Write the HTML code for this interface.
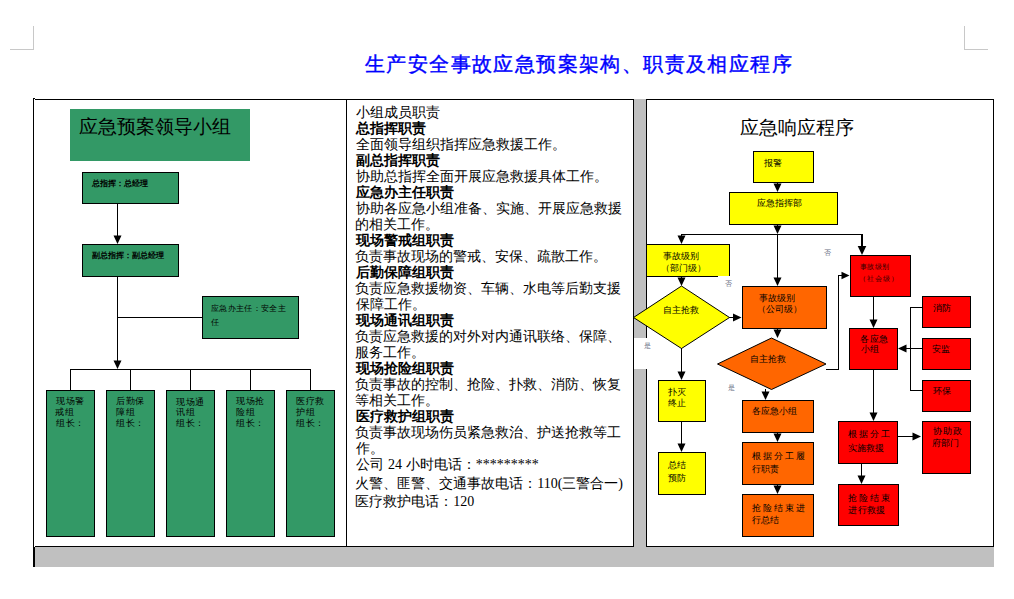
<!DOCTYPE html>
<html><head><meta charset="utf-8"><style>
html,body{margin:0;padding:0;background:#fff;}
body{width:1014px;height:599px;overflow:hidden;position:relative;}
svg{position:absolute;left:0;top:0;}
.t{position:absolute;white-space:nowrap;}
.r{font-family:'Liberation Serif',serif;}
</style></head><body>
<svg width="1014" height="599" viewBox="0 0 1014 599" shape-rendering="crispEdges">
<rect x="10" y="49" width="24" height="1" fill="#c8c8c8"/>
<rect x="33" y="26" width="1" height="24" fill="#c8c8c8"/>
<rect x="964" y="49" width="24" height="1" fill="#c8c8c8"/>
<rect x="964" y="26" width="1" height="24" fill="#c8c8c8"/>
<rect x="34" y="547" width="960" height="20" fill="#c0c0c0"/>
<rect x="634" y="99" width="12" height="448" fill="#c0c0c0"/>
<rect x="634" y="338" width="12" height="31" fill="#fff"/>
<rect x="33" y="99" width="1" height="468" fill="#000"/>
<rect x="33" y="98" width="2" height="1" fill="#000"/>
<rect x="35" y="99" width="599" height="1" fill="#000"/>
<rect x="646" y="99" width="348" height="1" fill="#000"/>
<rect x="35" y="546" width="599" height="1" fill="#000"/>
<rect x="646" y="546" width="348" height="1" fill="#000"/>
<rect x="34" y="547" width="1" height="20" fill="#000"/>
<rect x="346" y="99" width="1" height="448" fill="#000"/>
<rect x="633" y="99" width="1" height="448" fill="#000"/>
<rect x="646" y="99" width="1" height="239" fill="#000"/>
<rect x="646" y="369" width="1" height="178" fill="#000"/>
<rect x="993" y="99" width="1" height="448" fill="#000"/>
<rect x="70" y="109" width="180" height="52" fill="#339966"/>
<rect x="82.5" y="172.5" width="96" height="31" fill="#339966" stroke="#000" stroke-width="1"/>
<rect x="117" y="203" width="1" height="34" fill="#000"/>
<polygon shape-rendering="geometricPrecision" points="113.50,235.50 121.50,235.50 117.50,244.00" fill="#000"/>
<rect x="82.5" y="244.5" width="96" height="32" fill="#339966" stroke="#000" stroke-width="1"/>
<rect x="117" y="276" width="1" height="86" fill="#000"/>
<polygon shape-rendering="geometricPrecision" points="113.50,360.50 121.50,360.50 117.50,369.00" fill="#000"/>
<rect x="117" y="317" width="86" height="1" fill="#000"/>
<rect x="202.5" y="296.5" width="96" height="42" fill="#339966" stroke="#000" stroke-width="1"/>
<rect x="70" y="369" width="241" height="1" fill="#000"/>
<rect x="70" y="369" width="1" height="22" fill="#000"/>
<rect x="46.5" y="390.5" width="48" height="146" fill="#339966" stroke="#000" stroke-width="1"/>
<rect x="130" y="369" width="1" height="22" fill="#000"/>
<rect x="106.5" y="390.5" width="48" height="146" fill="#339966" stroke="#000" stroke-width="1"/>
<rect x="190" y="369" width="1" height="22" fill="#000"/>
<rect x="166.5" y="390.5" width="48" height="146" fill="#339966" stroke="#000" stroke-width="1"/>
<rect x="250" y="369" width="1" height="22" fill="#000"/>
<rect x="226.5" y="390.5" width="48" height="146" fill="#339966" stroke="#000" stroke-width="1"/>
<rect x="310" y="369" width="1" height="22" fill="#000"/>
<rect x="286.5" y="390.5" width="48" height="146" fill="#339966" stroke="#000" stroke-width="1"/>
<rect x="753.5" y="151.5" width="60" height="31" fill="#ffff00" stroke="#000" stroke-width="1"/>
<rect x="777" y="182" width="1" height="3" fill="#000"/>
<polygon shape-rendering="geometricPrecision" points="773.50,183.50 781.50,183.50 777.50,192.00" fill="#000"/>
<rect x="729.5" y="192.5" width="108" height="32" fill="#ffff00" stroke="#000" stroke-width="1"/>
<rect x="777" y="224" width="1" height="3" fill="#000"/>
<polygon shape-rendering="geometricPrecision" points="773.50,225.50 781.50,225.50 777.50,234.00" fill="#000"/>
<rect x="681" y="234" width="182" height="1" fill="#000"/>
<rect x="681" y="234" width="1" height="3" fill="#000"/>
<polygon shape-rendering="geometricPrecision" points="677.50,235.50 685.50,235.50 681.50,244.00" fill="#000"/>
<rect x="861" y="234" width="2" height="14" fill="#000"/>
<polygon shape-rendering="geometricPrecision" points="857.70,246.00 866.30,246.00 862.00,255.00" fill="#000"/>
<rect x="777" y="234" width="1" height="45" fill="#000"/>
<polygon shape-rendering="geometricPrecision" points="773.50,277.50 781.50,277.50 777.50,286.00" fill="#000"/>
<rect x="646.5" y="244.5" width="83" height="32" fill="#ffff00" stroke="#000" stroke-width="1"/>
<rect x="718" y="276" width="13" height="14" fill="#fff"/>
<rect x="681" y="276" width="1" height="3" fill="#000"/>
<polygon shape-rendering="geometricPrecision" points="677.50,277.50 685.50,277.50 681.50,286.00" fill="#000"/>
<polygon shape-rendering="geometricPrecision" points="681.5,286 729.5,317.5 681.5,348.5 633.5,317.5" fill="#ffff00" stroke="#000" stroke-width="1"/>
<rect x="729" y="317" width="6" height="1" fill="#000"/>
<polygon shape-rendering="geometricPrecision" points="733.00,313.50 733.00,321.50 741.50,317.50" fill="#000"/>
<rect x="742.5" y="286.5" width="84" height="42" fill="#ff6600" stroke="#000" stroke-width="1"/>
<rect x="777" y="328" width="1" height="3" fill="#000"/>
<polygon shape-rendering="geometricPrecision" points="773.50,329.50 781.50,329.50 777.50,338.00" fill="#000"/>
<polygon shape-rendering="geometricPrecision" points="771.5,338 826,364 771.5,389.5 717.5,364" fill="#ff6600" stroke="#000" stroke-width="1"/>
<rect x="826" y="369" width="1" height="1" fill="#000"/>
<rect x="826" y="369" width="13" height="1" fill="#000"/>
<rect x="838" y="275" width="1" height="95" fill="#000"/>
<rect x="838" y="275" width="5" height="1" fill="#000"/>
<polygon shape-rendering="geometricPrecision" points="841.50,271.80 841.50,279.20 849.50,275.50" fill="#000"/>
<rect x="850.5" y="255.5" width="60" height="41" fill="#ff0000" stroke="#000" stroke-width="1"/>
<rect x="873" y="296" width="1" height="25" fill="#000"/>
<polygon shape-rendering="geometricPrecision" points="869.50,319.50 877.50,319.50 873.50,328.00" fill="#000"/>
<rect x="849.5" y="328.5" width="48" height="41" fill="#ff0000" stroke="#000" stroke-width="1"/>
<rect x="922.5" y="296.5" width="48" height="31" fill="#ff0000" stroke="#000" stroke-width="1"/>
<rect x="922.5" y="338.5" width="48" height="31" fill="#ff0000" stroke="#000" stroke-width="1"/>
<rect x="922.5" y="380.5" width="48" height="31" fill="#ff0000" stroke="#000" stroke-width="1"/>
<rect x="910" y="307" width="12" height="1" fill="#000"/>
<rect x="910" y="307" width="1" height="84" fill="#000"/>
<rect x="910" y="390" width="12" height="1" fill="#000"/>
<rect x="905" y="348" width="17" height="1" fill="#000"/>
<polygon shape-rendering="geometricPrecision" points="906.50,344.50 906.50,352.50 898.00,348.50" fill="#000"/>
<rect x="873" y="369" width="1" height="45" fill="#000"/>
<polygon shape-rendering="geometricPrecision" points="869.50,412.50 877.50,412.50 873.50,421.00" fill="#000"/>
<rect x="838.5" y="421.5" width="59" height="42" fill="#ff0000" stroke="#000" stroke-width="1"/>
<rect x="897" y="436" width="17" height="1" fill="#000"/>
<polygon shape-rendering="geometricPrecision" points="912.50,432.50 912.50,440.50 921.00,436.50" fill="#000"/>
<rect x="922.5" y="421.5" width="48" height="52" fill="#ff0000" stroke="#000" stroke-width="1"/>
<rect x="861" y="463" width="1" height="14" fill="#000"/>
<polygon shape-rendering="geometricPrecision" points="857.50,475.50 865.50,475.50 861.50,484.00" fill="#000"/>
<rect x="838.5" y="484.5" width="60" height="41" fill="#ff0000" stroke="#000" stroke-width="1"/>
<rect x="681" y="348" width="1" height="25" fill="#000"/>
<polygon shape-rendering="geometricPrecision" points="677.50,371.50 685.50,371.50 681.50,380.00" fill="#000"/>
<rect x="658.5" y="380.5" width="47" height="41" fill="#ffff00" stroke="#000" stroke-width="1"/>
<rect x="681" y="421" width="1" height="24" fill="#000"/>
<polygon shape-rendering="geometricPrecision" points="677.50,443.50 685.50,443.50 681.50,452.00" fill="#000"/>
<rect x="658.5" y="452.5" width="47" height="42" fill="#ffff00" stroke="#000" stroke-width="1"/>
<rect x="765" y="389" width="1" height="4" fill="#000"/>
<polygon shape-rendering="geometricPrecision" points="761.50,391.50 769.50,391.50 765.50,400.00" fill="#000"/>
<rect x="742.5" y="400.5" width="71" height="32" fill="#ff6600" stroke="#000" stroke-width="1"/>
<rect x="777" y="432" width="1" height="3" fill="#000"/>
<polygon shape-rendering="geometricPrecision" points="773.50,433.50 781.50,433.50 777.50,442.00" fill="#000"/>
<rect x="742.5" y="442.5" width="71" height="42" fill="#ff6600" stroke="#000" stroke-width="1"/>
<rect x="777" y="484" width="1" height="3" fill="#000"/>
<polygon shape-rendering="geometricPrecision" points="773.50,485.50 781.50,485.50 777.50,494.00" fill="#000"/>
<rect x="742.5" y="494.5" width="71" height="42" fill="#ff6600" stroke="#000" stroke-width="1"/>
</svg>
<div class="t" id="t0" style="left:365.00px;top:54.96px;font-size:19.6px;line-height:19.6px;color:#0000ff;font-family:'Liberation Serif',sans-serif;font-weight:500;letter-spacing:1.4px;-webkit-text-stroke:0.4px #0000ff;">生产安全事故应急预案架构、职责及相应程序</div>
<div class="t" id="t1" style="left:79.20px;top:118.05px;font-size:18.5px;line-height:18.5px;color:#000;font-family:'Liberation Sans',sans-serif;">应急预案领导小组</div>
<div class="t" id="t2" style="left:92.24px;top:179.40px;font-size:8.3px;line-height:8.3px;color:#000;font-family:'Liberation Sans',sans-serif;font-weight:700;">总指挥：总经理</div>
<div class="t" id="t3" style="left:92.24px;top:251.55px;font-size:8.2px;line-height:8.2px;color:#000;font-family:'Liberation Sans',sans-serif;font-weight:700;">副总指挥：副总经理</div>
<div class="t" id="t4" style="left:211.20px;top:305.37px;font-size:8.2px;line-height:8.2px;color:#000;font-family:'Liberation Sans',sans-serif;font-weight:500;letter-spacing:0.3px;">应急办主任：安全主</div>
<div class="t" id="t5" style="left:211.20px;top:319.13px;font-size:8.2px;line-height:8.2px;color:#000;font-family:'Liberation Sans',sans-serif;font-weight:500;">任</div>
<div class="t" id="t6" style="left:56.00px;top:397.49px;font-size:9px;line-height:9px;color:#000;font-family:'Liberation Sans',sans-serif;font-weight:500;letter-spacing:0.7px;">现场警</div>
<div class="t" id="t7" style="left:55.20px;top:408.25px;font-size:9px;line-height:9px;color:#000;font-family:'Liberation Sans',sans-serif;font-weight:500;letter-spacing:0.7px;">戒组</div>
<div class="t" id="t8" style="left:56.00px;top:418.73px;font-size:9px;line-height:9px;color:#000;font-family:'Liberation Sans',sans-serif;font-weight:500;letter-spacing:0.7px;">组长：</div>
<div class="t" id="t9" style="left:116.00px;top:397.49px;font-size:9px;line-height:9px;color:#000;font-family:'Liberation Sans',sans-serif;font-weight:500;letter-spacing:0.7px;">后勤保</div>
<div class="t" id="t10" style="left:116.00px;top:408.25px;font-size:9px;line-height:9px;color:#000;font-family:'Liberation Sans',sans-serif;font-weight:500;letter-spacing:0.7px;">障组</div>
<div class="t" id="t11" style="left:116.00px;top:418.73px;font-size:9px;line-height:9px;color:#000;font-family:'Liberation Sans',sans-serif;font-weight:500;letter-spacing:0.7px;">组长：</div>
<div class="t" id="t12" style="left:176.00px;top:398.29px;font-size:9px;line-height:9px;color:#000;font-family:'Liberation Sans',sans-serif;font-weight:500;letter-spacing:0.7px;">现场通</div>
<div class="t" id="t13" style="left:176.00px;top:408.25px;font-size:9px;line-height:9px;color:#000;font-family:'Liberation Sans',sans-serif;font-weight:500;letter-spacing:0.7px;">讯组</div>
<div class="t" id="t14" style="left:176.00px;top:418.73px;font-size:9px;line-height:9px;color:#000;font-family:'Liberation Sans',sans-serif;font-weight:500;letter-spacing:0.7px;">组长：</div>
<div class="t" id="t15" style="left:236.00px;top:397.49px;font-size:9px;line-height:9px;color:#000;font-family:'Liberation Sans',sans-serif;font-weight:500;letter-spacing:0.7px;">现场抢</div>
<div class="t" id="t16" style="left:236.00px;top:408.25px;font-size:9px;line-height:9px;color:#000;font-family:'Liberation Sans',sans-serif;font-weight:500;letter-spacing:0.7px;">险组</div>
<div class="t" id="t17" style="left:236.00px;top:418.73px;font-size:9px;line-height:9px;color:#000;font-family:'Liberation Sans',sans-serif;font-weight:500;letter-spacing:0.7px;">组长：</div>
<div class="t" id="t18" style="left:296.00px;top:397.49px;font-size:9px;line-height:9px;color:#000;font-family:'Liberation Sans',sans-serif;font-weight:500;letter-spacing:0.7px;">医疗救</div>
<div class="t" id="t19" style="left:296.00px;top:408.25px;font-size:9px;line-height:9px;color:#000;font-family:'Liberation Sans',sans-serif;font-weight:500;letter-spacing:0.7px;">护组</div>
<div class="t" id="t20" style="left:296.00px;top:418.73px;font-size:9px;line-height:9px;color:#000;font-family:'Liberation Sans',sans-serif;font-weight:500;letter-spacing:0.7px;">组长：</div>
<div class="t" id="t21" style="left:356.00px;top:105.48px;font-size:14px;line-height:14px;color:#000;font-family:'Liberation Sans',sans-serif;">小组成员职责</div>
<div class="t" id="t22" style="left:356.00px;top:121.48px;font-size:14px;line-height:14px;color:#000;font-family:'Liberation Sans',sans-serif;font-weight:700;">总指挥职责</div>
<div class="t" id="t23" style="left:356.00px;top:136.68px;font-size:14px;line-height:14px;color:#000;font-family:'Liberation Sans',sans-serif;">全面领导组织指挥应急救援工作。</div>
<div class="t" id="t24" style="left:356.00px;top:153.48px;font-size:14px;line-height:14px;color:#000;font-family:'Liberation Sans',sans-serif;font-weight:700;">副总指挥职责</div>
<div class="t" id="t25" style="left:356.00px;top:168.68px;font-size:14px;line-height:14px;color:#000;font-family:'Liberation Sans',sans-serif;">协助总指挥全面开展应急救援具体工作。</div>
<div class="t" id="t26" style="left:356.00px;top:185.48px;font-size:14px;line-height:14px;color:#000;font-family:'Liberation Sans',sans-serif;font-weight:700;">应急办主任职责</div>
<div class="t" id="t27" style="left:356.00px;top:200.68px;font-size:14px;line-height:14px;color:#000;font-family:'Liberation Sans',sans-serif;">协助各应急小组准备、实施、开展应急救援</div>
<div class="t" id="t28" style="left:355.20px;top:217.48px;font-size:14px;line-height:14px;color:#000;font-family:'Liberation Sans',sans-serif;">的相关工作。</div>
<div class="t" id="t29" style="left:356.00px;top:233.48px;font-size:14px;line-height:14px;color:#000;font-family:'Liberation Sans',sans-serif;font-weight:700;">现场警戒组职责</div>
<div class="t" id="t30" style="left:355.20px;top:249.48px;font-size:14px;line-height:14px;color:#000;font-family:'Liberation Sans',sans-serif;">负责事故现场的警戒、安保、疏散工作。</div>
<div class="t" id="t31" style="left:356.00px;top:265.48px;font-size:14px;line-height:14px;color:#000;font-family:'Liberation Sans',sans-serif;font-weight:700;">后勤保障组职责</div>
<div class="t" id="t32" style="left:355.20px;top:281.48px;font-size:14px;line-height:14px;color:#000;font-family:'Liberation Sans',sans-serif;">负责应急救援物资、车辆、水电等后勤支援</div>
<div class="t" id="t33" style="left:356.00px;top:296.68px;font-size:14px;line-height:14px;color:#000;font-family:'Liberation Sans',sans-serif;">保障工作。</div>
<div class="t" id="t34" style="left:356.00px;top:313.48px;font-size:14px;line-height:14px;color:#000;font-family:'Liberation Sans',sans-serif;font-weight:700;">现场通讯组职责</div>
<div class="t" id="t35" style="left:355.20px;top:329.48px;font-size:14px;line-height:14px;color:#000;font-family:'Liberation Sans',sans-serif;">负责应急救援的对外对内通讯联络、保障、</div>
<div class="t" id="t36" style="left:355.20px;top:344.68px;font-size:14px;line-height:14px;color:#000;font-family:'Liberation Sans',sans-serif;">服务工作。</div>
<div class="t" id="t37" style="left:356.00px;top:361.48px;font-size:14px;line-height:14px;color:#000;font-family:'Liberation Sans',sans-serif;font-weight:700;">现场抢险组职责</div>
<div class="t" id="t38" style="left:355.20px;top:377.48px;font-size:14px;line-height:14px;color:#000;font-family:'Liberation Sans',sans-serif;">负责事故的控制、抢险、扑救、消防、恢复</div>
<div class="t" id="t39" style="left:355.20px;top:393.48px;font-size:14px;line-height:14px;color:#000;font-family:'Liberation Sans',sans-serif;">等相关工作。</div>
<div class="t" id="t40" style="left:356.00px;top:409.48px;font-size:14px;line-height:14px;color:#000;font-family:'Liberation Sans',sans-serif;font-weight:700;">医疗救护组职责</div>
<div class="t" id="t41" style="left:355.20px;top:425.48px;font-size:14px;line-height:14px;color:#000;font-family:'Liberation Sans',sans-serif;">负责事故现场伤员紧急救治、护送抢救等工</div>
<div class="t" id="t42" style="left:356.00px;top:440.68px;font-size:14px;line-height:14px;color:#000;font-family:'Liberation Sans',sans-serif;">作。</div>
<div class="t" id="t43" style="left:356.00px;top:456.68px;font-size:14px;line-height:14px;color:#000;font-family:'Liberation Sans',sans-serif;">公司 <span class="r">24</span> 小时电话：<span class="r">*********</span></div>
<div class="t" id="t44" style="left:355.20px;top:476.48px;font-size:14px;line-height:14px;color:#000;font-family:'Liberation Sans',sans-serif;">火警、匪警、交通事故电话：<span class="r">110(三警合一)</span></div>
<div class="t" id="t45" style="left:355.20px;top:493.68px;font-size:14px;line-height:14px;color:#000;font-family:'Liberation Sans',sans-serif;">医疗救护电话：<span class="r">120</span></div>
<div class="t" id="t46" style="left:740.20px;top:119.05px;font-size:18.5px;line-height:18.5px;color:#000;font-family:'Liberation Sans',sans-serif;">应急响应程序</div>
<div class="t" id="t47" style="left:764.24px;top:158.65px;font-size:8.5px;line-height:8.5px;color:#000;font-family:'Liberation Sans',sans-serif;font-weight:500;">报警</div>
<div class="t" id="t48" style="left:756.58px;top:199.36px;font-size:8.5px;line-height:8.5px;color:#000;font-family:'Liberation Sans',sans-serif;font-weight:500;">应急指挥部</div>
<div class="t" id="t49" style="left:663.30px;top:251.75px;font-size:8.5px;line-height:8.5px;color:#000;font-family:'Liberation Sans',sans-serif;font-weight:500;">事故级别</div>
<div class="t" id="t50" style="left:660.50px;top:263.75px;font-size:8.5px;line-height:8.5px;color:#000;font-family:'Liberation Sans',sans-serif;font-weight:500;">（部门级）</div>
<div class="t" id="t51" style="left:663.30px;top:306.36px;font-size:8.5px;line-height:8.5px;color:#000;font-family:'Liberation Sans',sans-serif;font-weight:500;">自主抢救</div>
<div class="t" id="t52" style="left:759.30px;top:293.64px;font-size:8.5px;line-height:8.5px;color:#000;font-family:'Liberation Sans',sans-serif;font-weight:500;">事故级别</div>
<div class="t" id="t53" style="left:756.50px;top:304.64px;font-size:8.5px;line-height:8.5px;color:#000;font-family:'Liberation Sans',sans-serif;font-weight:500;">（公司级）</div>
<div class="t" id="t54" style="left:750.44px;top:354.75px;font-size:8.5px;line-height:8.5px;color:#000;font-family:'Liberation Sans',sans-serif;font-weight:500;">自主抢救</div>
<div class="t" id="t55" style="left:859.82px;top:263.22px;font-size:7.2px;line-height:7.2px;color:#300000;font-family:'Liberation Sans',sans-serif;letter-spacing:0.4px;">事故级别</div>
<div class="t" id="t56" style="left:858.70px;top:275.22px;font-size:7.2px;line-height:7.2px;color:#300000;font-family:'Liberation Sans',sans-serif;letter-spacing:1.1px;">（社会级）</div>
<div class="t" id="t57" style="left:859.96px;top:334.64px;font-size:8.5px;line-height:8.5px;color:#000;font-family:'Liberation Sans',sans-serif;font-weight:500;letter-spacing:0.6px;">各应急</div>
<div class="t" id="t58" style="left:860.76px;top:345.13px;font-size:8.5px;line-height:8.5px;color:#000;font-family:'Liberation Sans',sans-serif;font-weight:500;letter-spacing:0.6px;">小组</div>
<div class="t" id="t59" style="left:933.00px;top:303.64px;font-size:8.5px;line-height:8.5px;color:#000;font-family:'Liberation Sans',sans-serif;font-weight:500;">消防</div>
<div class="t" id="t60" style="left:932.20px;top:345.13px;font-size:8.5px;line-height:8.5px;color:#000;font-family:'Liberation Sans',sans-serif;font-weight:500;">安监</div>
<div class="t" id="t61" style="left:933.00px;top:386.75px;font-size:8.5px;line-height:8.5px;color:#000;font-family:'Liberation Sans',sans-serif;font-weight:500;">环保</div>
<div class="t" id="t62" style="left:848.48px;top:430.03px;font-size:8.5px;line-height:8.5px;color:#000;font-family:'Liberation Sans',sans-serif;font-weight:500;letter-spacing:1.9px;">根据分工</div>
<div class="t" id="t63" style="left:847.68px;top:443.78px;font-size:8.5px;line-height:8.5px;color:#000;font-family:'Liberation Sans',sans-serif;font-weight:500;letter-spacing:0.1px;">实施救援</div>
<div class="t" id="t64" style="left:933.14px;top:427.36px;font-size:8.5px;line-height:8.5px;color:#000;font-family:'Liberation Sans',sans-serif;font-weight:500;letter-spacing:1.1px;">协助政</div>
<div class="t" id="t65" style="left:931.54px;top:439.26px;font-size:8.5px;line-height:8.5px;color:#000;font-family:'Liberation Sans',sans-serif;font-weight:500;letter-spacing:0.2px;">府部门</div>
<div class="t" id="t66" style="left:848.48px;top:493.64px;font-size:8.5px;line-height:8.5px;color:#000;font-family:'Liberation Sans',sans-serif;font-weight:500;letter-spacing:1.9px;">抢险结束</div>
<div class="t" id="t67" style="left:848.48px;top:505.75px;font-size:8.5px;line-height:8.5px;color:#000;font-family:'Liberation Sans',sans-serif;font-weight:500;letter-spacing:0.1px;">进行救援</div>
<div class="t" id="t68" style="left:668.24px;top:388.03px;font-size:8.5px;line-height:8.5px;color:#000;font-family:'Liberation Sans',sans-serif;font-weight:500;">扑灭</div>
<div class="t" id="t69" style="left:668.24px;top:399.13px;font-size:8.5px;line-height:8.5px;color:#000;font-family:'Liberation Sans',sans-serif;font-weight:500;">终止</div>
<div class="t" id="t70" style="left:668.24px;top:461.26px;font-size:8.5px;line-height:8.5px;color:#000;font-family:'Liberation Sans',sans-serif;font-weight:500;">总结</div>
<div class="t" id="t71" style="left:668.24px;top:474.26px;font-size:8.5px;line-height:8.5px;color:#000;font-family:'Liberation Sans',sans-serif;font-weight:500;">预防</div>
<div class="t" id="t72" style="left:751.96px;top:407.03px;font-size:8.5px;line-height:8.5px;color:#000;font-family:'Liberation Sans',sans-serif;font-weight:500;">各应急小组</div>
<div class="t" id="t73" style="left:752.48px;top:451.64px;font-size:8.5px;line-height:8.5px;color:#000;font-family:'Liberation Sans',sans-serif;font-weight:500;letter-spacing:2px;">根据分工履</div>
<div class="t" id="t74" style="left:752.48px;top:464.75px;font-size:8.5px;line-height:8.5px;color:#000;font-family:'Liberation Sans',sans-serif;font-weight:500;">行职责</div>
<div class="t" id="t75" style="left:752.48px;top:503.88px;font-size:8.5px;line-height:8.5px;color:#000;font-family:'Liberation Sans',sans-serif;font-weight:500;letter-spacing:2px;">抢险结束进</div>
<div class="t" id="t76" style="left:752.48px;top:516.37px;font-size:8.5px;line-height:8.5px;color:#000;font-family:'Liberation Sans',sans-serif;font-weight:500;">行总结</div>
<div class="t" id="t77" style="left:824.00px;top:250.31px;font-size:6.5px;line-height:6.5px;color:#687084;font-family:'Liberation Sans',sans-serif;">否</div>
<div class="t" id="t78" style="left:724.60px;top:281.31px;font-size:6.5px;line-height:6.5px;color:#687084;font-family:'Liberation Sans',sans-serif;">否</div>
<div class="t" id="t79" style="left:643.60px;top:343.00px;font-size:6.5px;line-height:6.5px;color:#687084;font-family:'Liberation Sans',sans-serif;">是</div>
<div class="t" id="t80" style="left:728.00px;top:385.00px;font-size:6.5px;line-height:6.5px;color:#687084;font-family:'Liberation Sans',sans-serif;">是</div>
</body></html>
